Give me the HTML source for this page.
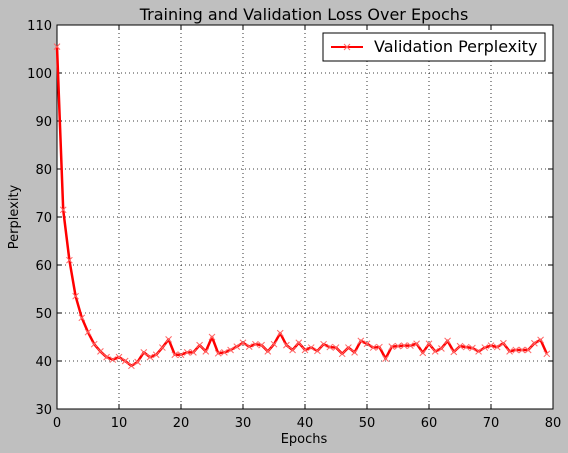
<!DOCTYPE html>
<html><head><meta charset="utf-8"><style>
body{margin:0;background:#bfbfbf;}
svg{display:block;font-family:"DejaVu Sans","Liberation Sans",sans-serif;}
</style></head><body>
<svg id="chart" width="568" height="453">
<rect x="0" y="0" width="568" height="453" fill="#bfbfbf"/>
<rect x="57" y="25" width="496" height="384" fill="#fff" stroke="#000" stroke-width="1"/>
<g id="grid"></g><g id="ticks"></g><g id="series"></g>
<text x="304" y="20" text-anchor="middle" font-size="16">Training and Validation Loss Over Epochs</text>
<text x="304" y="443" text-anchor="middle" font-size="13">Epochs</text>
<text transform="translate(18,217) rotate(-90)" text-anchor="middle" font-size="13">Perplexity</text>
<g>
<rect x="323" y="33" width="222" height="28" fill="#fff" stroke="#000"/>
<line x1="331" y1="47" x2="363" y2="47" stroke="red" stroke-width="2"/>
<path d="M344,44L350,50M344,50L350,44" stroke="#f66" stroke-width="1"/>
<text x="374" y="52" font-size="16">Validation Perplexity</text>
</g>
</svg>
<script>
const xTicks=[0,10,20,30,40,50,60,70,80];
const yTicks=[30,40,50,60,70,80,90,100,110];
const perplexity=[105.5,71.5,61,53.5,49,46,43.5,42,40.8,40.3,40.8,40,39,39.8,41.8,40.8,41.3,42.8,44.5,41.3,41.3,41.8,41.8,43.3,42,45,41.6,41.8,42.3,43,43.8,43,43.5,43.3,42,43.5,45.8,43.3,42.3,43.8,42.3,42.8,42.1,43.5,42.9,42.8,41.5,42.8,41.8,44.2,43.6,42.8,42.9,40.5,43,43.1,43.2,43.2,43.6,41.7,43.6,42,42.6,44.2,41.9,43.1,42.9,42.7,42,42.8,43.2,42.9,43.7,42,42.3,42.3,42.3,43.7,44.4,41.5];
const NS='http://www.w3.org/2000/svg';
const X=v=>57+(v-0)/80*496, Y=v=>409-(v-30)/80*384;
function mk(t,a,p){const e=document.createElementNS(NS,t);for(const k in a)e.setAttribute(k,a[k]);p.appendChild(e);return e;}
const grid=document.getElementById('grid'),ticks=document.getElementById('ticks'),ser=document.getElementById('series');
xTicks.forEach(v=>{
 if(v>0&&v<80){const g=mk('line',{x1:X(v),x2:X(v),y1:25,y2:409,stroke:'#000','stroke-dasharray':'1,3','stroke-width':0.8},grid);
 
 }
 mk('line',{x1:X(v),x2:X(v),y1:409,y2:404,stroke:'#000'},ticks);
 mk('line',{x1:X(v),x2:X(v),y1:25,y2:30,stroke:'#000'},ticks);
 const t=mk('text',{x:X(v),y:427,'text-anchor':'middle','font-size':13},ticks);t.textContent=v;
 
 
});
yTicks.forEach(v=>{
 if(v>30&&v<110){const g=mk('line',{x1:57,x2:553,y1:Y(v),y2:Y(v),stroke:'#000','stroke-dasharray':'1,3','stroke-width':0.8},grid);
 
 }
 mk('line',{x1:57,x2:62,y1:Y(v),y2:Y(v),stroke:'#000'},ticks);
 mk('line',{x1:548,x2:553,y1:Y(v),y2:Y(v),stroke:'#000'},ticks);
 const t=mk('text',{x:52,y:Y(v)+5,'text-anchor':'end','font-size':13},ticks);t.textContent=v;
 
 
});
const pts=perplexity.map((v,i)=>X(i)+','+Y(v)).join(' ');
const pl=mk('polyline',{points:pts,fill:'none',stroke:'red','stroke-width':2.5,'stroke-linejoin':'round'},ser);


perplexity.forEach((v,i)=>{
 const x=X(i),y=Y(v);
 const m=mk('path',{d:`M${x-3},${y-3}L${x+3},${y+3}M${x-3},${y+3}L${x+3},${y-3}`,stroke:'#f66','stroke-width':1},ser);
 
 
});
</script>
</body></html>
